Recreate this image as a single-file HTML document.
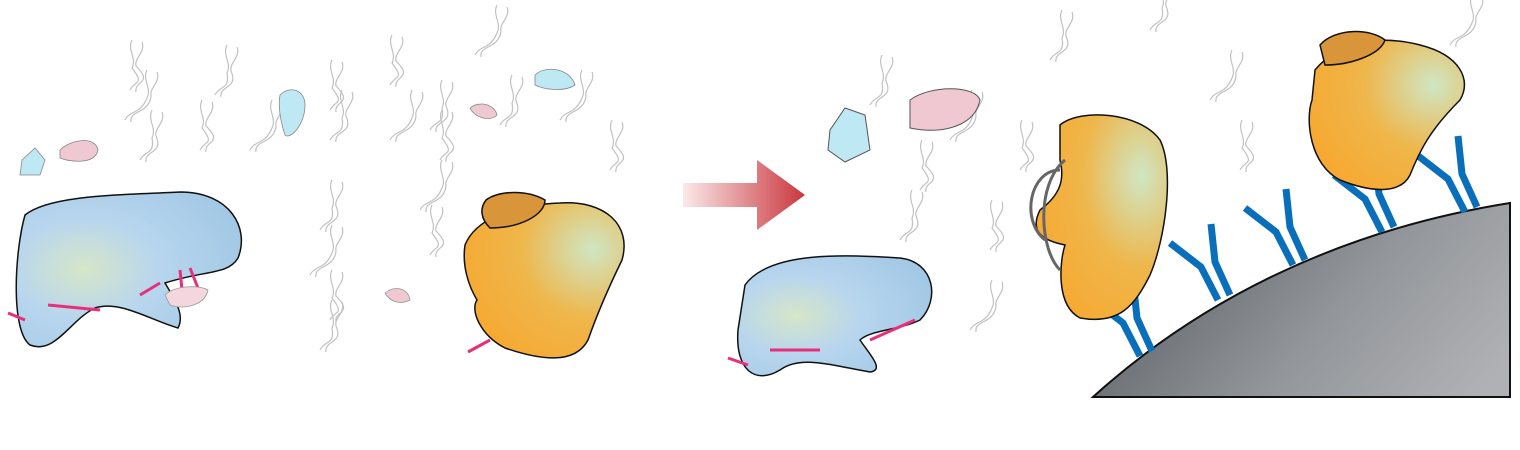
<!DOCTYPE html>
<html><head><meta charset="utf-8"><style>
html,body{margin:0;padding:0;background:#fff;width:1520px;height:450px;overflow:hidden;font-family:"Liberation Sans",sans-serif}
</style></head><body>
<svg width="1520" height="450" viewBox="0 0 1520 450">
<defs>
<radialGradient id="blue" cx="0.3" cy="0.5" r="0.8"><stop offset="0" stop-color="#d6e6c8"/><stop offset="0.4" stop-color="#b8d6ee"/><stop offset="1" stop-color="#9fc6e4"/></radialGradient>
<radialGradient id="orange" cx="0.8" cy="0.3" r="0.9"><stop offset="0" stop-color="#cfe6c4"/><stop offset="0.5" stop-color="#efb64a"/><stop offset="1" stop-color="#f7a830"/></radialGradient>
<linearGradient id="grey" x1="0" y1="0.4" x2="1" y2="0.8"><stop offset="0" stop-color="#5a5f65"/><stop offset="0.55" stop-color="#92969a"/><stop offset="1" stop-color="#b0b1b4"/></linearGradient>
<linearGradient id="arrow" x1="0" x2="1"><stop offset="0" stop-color="#fbe9ea"/><stop offset="1" stop-color="#c9373d"/></linearGradient>
</defs>
<g fill="none" stroke="#777" stroke-width="1.2" opacity="0.45" id="dna"></g>
<path d="M25,215 C50,195 120,195 180,192 C230,192 250,228 238,258 C228,275 205,270 165,283 C175,300 185,315 178,328 C150,320 120,300 95,308 C70,320 55,355 30,345 C10,330 15,250 25,215Z" fill="url(#blue)" stroke="#111" stroke-width="1.5"/>
<path d="M8,313 L25,320 M48,305 L100,310 M140,295 L160,283 M180,270 L182,290 M190,268 L198,288" stroke="#e8307a" stroke-width="3" fill="none"/>
<path d="M22,160 L35,148 L45,160 L40,175 L20,175Z" fill="#bfe8f5" stroke="#888" stroke-width="0.8"/>
<path d="M60,150 C70,140 95,135 98,150 C95,165 70,162 60,158Z" fill="#efc8d2" stroke="#888" stroke-width="0.8"/>
<path d="M280,95 C290,85 305,90 305,105 C305,125 290,140 285,135 C280,120 278,105 280,95Z" fill="#bfe8f5" stroke="#888" stroke-width="0.8"/>
<path d="M165,295 C175,285 200,285 208,290 C205,305 185,310 170,305Z" fill="#f3d6de" stroke="#999" stroke-width="0.8"/>
<path d="M535,75 C545,65 570,68 575,85 C565,92 545,90 535,85Z" fill="#bfe8f5" stroke="#888" stroke-width="0.8"/>
<path d="M470,108 C480,100 495,105 497,115 C490,122 475,118 470,108Z" fill="#efc8d2" stroke="#888" stroke-width="0.8"/>
<path d="M385,293 C395,285 408,288 410,300 C400,305 390,302 385,293Z" fill="#efc8d2" stroke="#999" stroke-width="0.8"/>
<path d="M465,245 C475,220 510,205 560,203 C605,200 632,225 622,260 C605,295 595,320 588,340 C575,365 540,360 505,348 C480,335 470,310 477,300 C468,285 462,265 465,245Z" fill="url(#orange)" stroke="#111" stroke-width="1.5"/>
<path d="M486,200 C500,190 528,190 545,200 C545,215 520,228 490,228 C480,218 480,208 486,200Z" fill="#d9953a" stroke="#111" stroke-width="1.5"/>
<path d="M468,352 L490,340" stroke="#e8307a" stroke-width="3"/>
<polygon points="683,183 757,183 757,160 805,195 757,230 757,207 683,207" fill="url(#arrow)"/>
<path d="M830,130 L845,108 L865,115 L870,150 L845,162 L828,150Z" fill="#bfe8f5" stroke="#555" stroke-width="1"/>
<path d="M910,100 C930,85 975,85 980,100 C975,125 945,135 910,128Z" fill="#efc8d2" stroke="#555" stroke-width="1"/>
<path d="M745,285 C770,250 850,255 900,258 C935,262 940,300 920,320 C900,330 870,330 860,340 C870,355 885,370 870,372 C830,365 800,355 780,370 C755,385 735,370 738,330Z" fill="url(#blue)" stroke="#111" stroke-width="1.5"/>
<path d="M728,358 L748,365 M770,350 L820,350 M870,340 L915,320" stroke="#e8307a" stroke-width="3" fill="none"/>
<path d="M1093,397 C1200,300 1340,230 1510,203 L1510,397Z" fill="url(#grey)" stroke="#111" stroke-width="2"/>
<g stroke="#0a6fba" stroke-width="7" fill="none" stroke-linejoin="miter" id="abs"></g>
<path d="M1060,125 C1080,108 1140,112 1160,140 C1175,170 1165,240 1150,275 C1135,305 1120,325 1080,318 C1055,305 1060,260 1065,245 C1040,240 1030,230 1040,210 C1060,195 1065,180 1060,160Z" fill="url(#orange)" stroke="#111" stroke-width="1.5"/>
<path d="M1060,170 C1030,170 1020,220 1045,240 M1065,160 C1035,185 1040,250 1060,270" stroke="#666" stroke-width="3" fill="none"/>
<path d="M1315,70 C1340,40 1380,35 1420,45 C1460,55 1472,80 1460,100 C1430,130 1420,150 1410,175 C1400,195 1370,192 1340,180 C1310,165 1305,120 1312,100Z" fill="url(#orange)" stroke="#111" stroke-width="1.5"/>
<path d="M1320,45 C1335,28 1370,28 1385,40 C1380,55 1350,65 1325,65Z" fill="#d9953a" stroke="#111" stroke-width="1.5"/>
</svg>
<script>
const ns="http://www.w3.org/2000/svg";
const abBaseX=[1140,1218,1293,1382,1465];
const abBaseY=[356,300,265,232,212];
const g=document.getElementById('abs');
abBaseX.forEach((x,i)=>{
 const y=abBaseY[i];
 const p=document.createElementNS(ns,'path');
 
 
 p.setAttribute('d',`M${x},${y} L${x-17},${y-33} L${x-48},${y-57} M${x+12},${y-5} L${x-3},${y-38} L${x-7},${y-76}`);
 g.appendChild(p);
});
const d=document.getElementById('dna');
const pts=[[130,90],[215,95],[125,120],[200,150],[140,160],[250,150],[330,110],[330,140],[390,140],[390,85],[430,130],[475,55],[440,160],[500,125],[560,120],[610,170],[320,230],[310,275],[330,320],[320,350],[420,210],[430,255],[870,105],[950,140],[920,190],[900,240],[970,330],[990,250],[1150,30],[1210,100],[1240,170],[1050,60],[1450,45],[1020,170]];
pts.forEach(([x,y],i)=>{
 const p=document.createElementNS(ns,'path');
 
 
 const dx=(i%3-1)*10;
 p.setAttribute('d',`M${x},${y} c5,-10 15,-5 ${12+dx},-22 c5,-10 -5,-18 0,-28 M${x+6},${y+2} c-2,-12 18,-8 ${10+dx},-26 c-2,-8 10,-14 6,-24`);
 d.appendChild(p);
});
</script>
</body></html>
